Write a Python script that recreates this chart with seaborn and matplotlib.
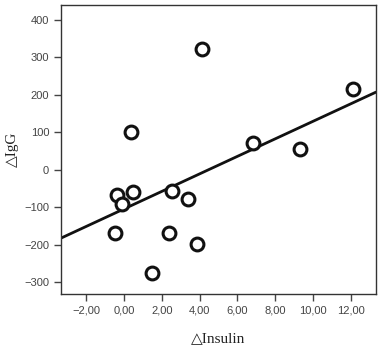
import numpy as np
import pandas as pd
import seaborn as sns
import matplotlib
matplotlib.use("Agg")
import matplotlib.pyplot as plt
from matplotlib.ticker import FuncFormatter

# values
insulin = [4.13, 0.37, 12.1, 6.83, 9.31, -0.37, 0.48, -0.10, 2.54, 3.39, -0.48, 2.38, 3.86, 1.48]
igg = [323, 101, 216, 72, 56, -67, -59, -91, -56, -78, -168, -168, -198, -275]
x_ticks = [-2, 0, 2, 4, 6, 8, 10, 12]
y_ticks = [-300, -200, -100, 0, 100, 200, 300, 400]

df = pd.DataFrame({"insulin": insulin, "igg": igg})

sns.set_style("ticks")
plt.rcParams['font.family'] = ['Liberation Sans', 'DejaVu Sans']

fig = plt.figure(figsize=(3.9, 3.51), dpi=100)
ax = fig.add_axes([61 / 390, 1 - 294 / 351, 315 / 390, 289 / 351])

# limits first so the fit line runs across the whole box
ax.set_xlim(-3.33, 13.33)
ax.set_ylim(-332, 440)

sns.regplot(data=df, x="insulin", y="igg", ax=ax, ci=None, truncate=False,
            scatter_kws=dict(s=85, facecolors="white", edgecolors="#111111",
                             linewidths=2.2, alpha=1, zorder=3),
            line_kws=dict(color="#111111", lw=2))
ax.set_xlim(-3.33, 13.33)
ax.set_ylim(-332, 440)

ax.set_xticks(x_ticks)
ax.set_yticks(y_ticks)
ax.xaxis.set_major_formatter(FuncFormatter(lambda v, p: f"{v:.2f}".replace(".", ",").replace("-", "\u2212")))
ax.yaxis.set_major_formatter(FuncFormatter(lambda v, p: f"{v:.0f}".replace("-", "\u2212")))
ax.tick_params(labelsize=8, colors="#444444", length=5, width=1, labelcolor="#444444")

for s in ax.spines.values():
    s.set_color("#333333")
    s.set_linewidth(1)

ax.set_xlabel("\u25b3Insulin", family=['Liberation Serif', 'DejaVu Serif'], fontsize=11,
              color="#222222", labelpad=12)
ax.set_ylabel("\u25b3IgG", family=['Liberation Serif', 'DejaVu Serif'], fontsize=11,
              color="#222222", labelpad=4)

fig.savefig("out.png", dpi=100)
